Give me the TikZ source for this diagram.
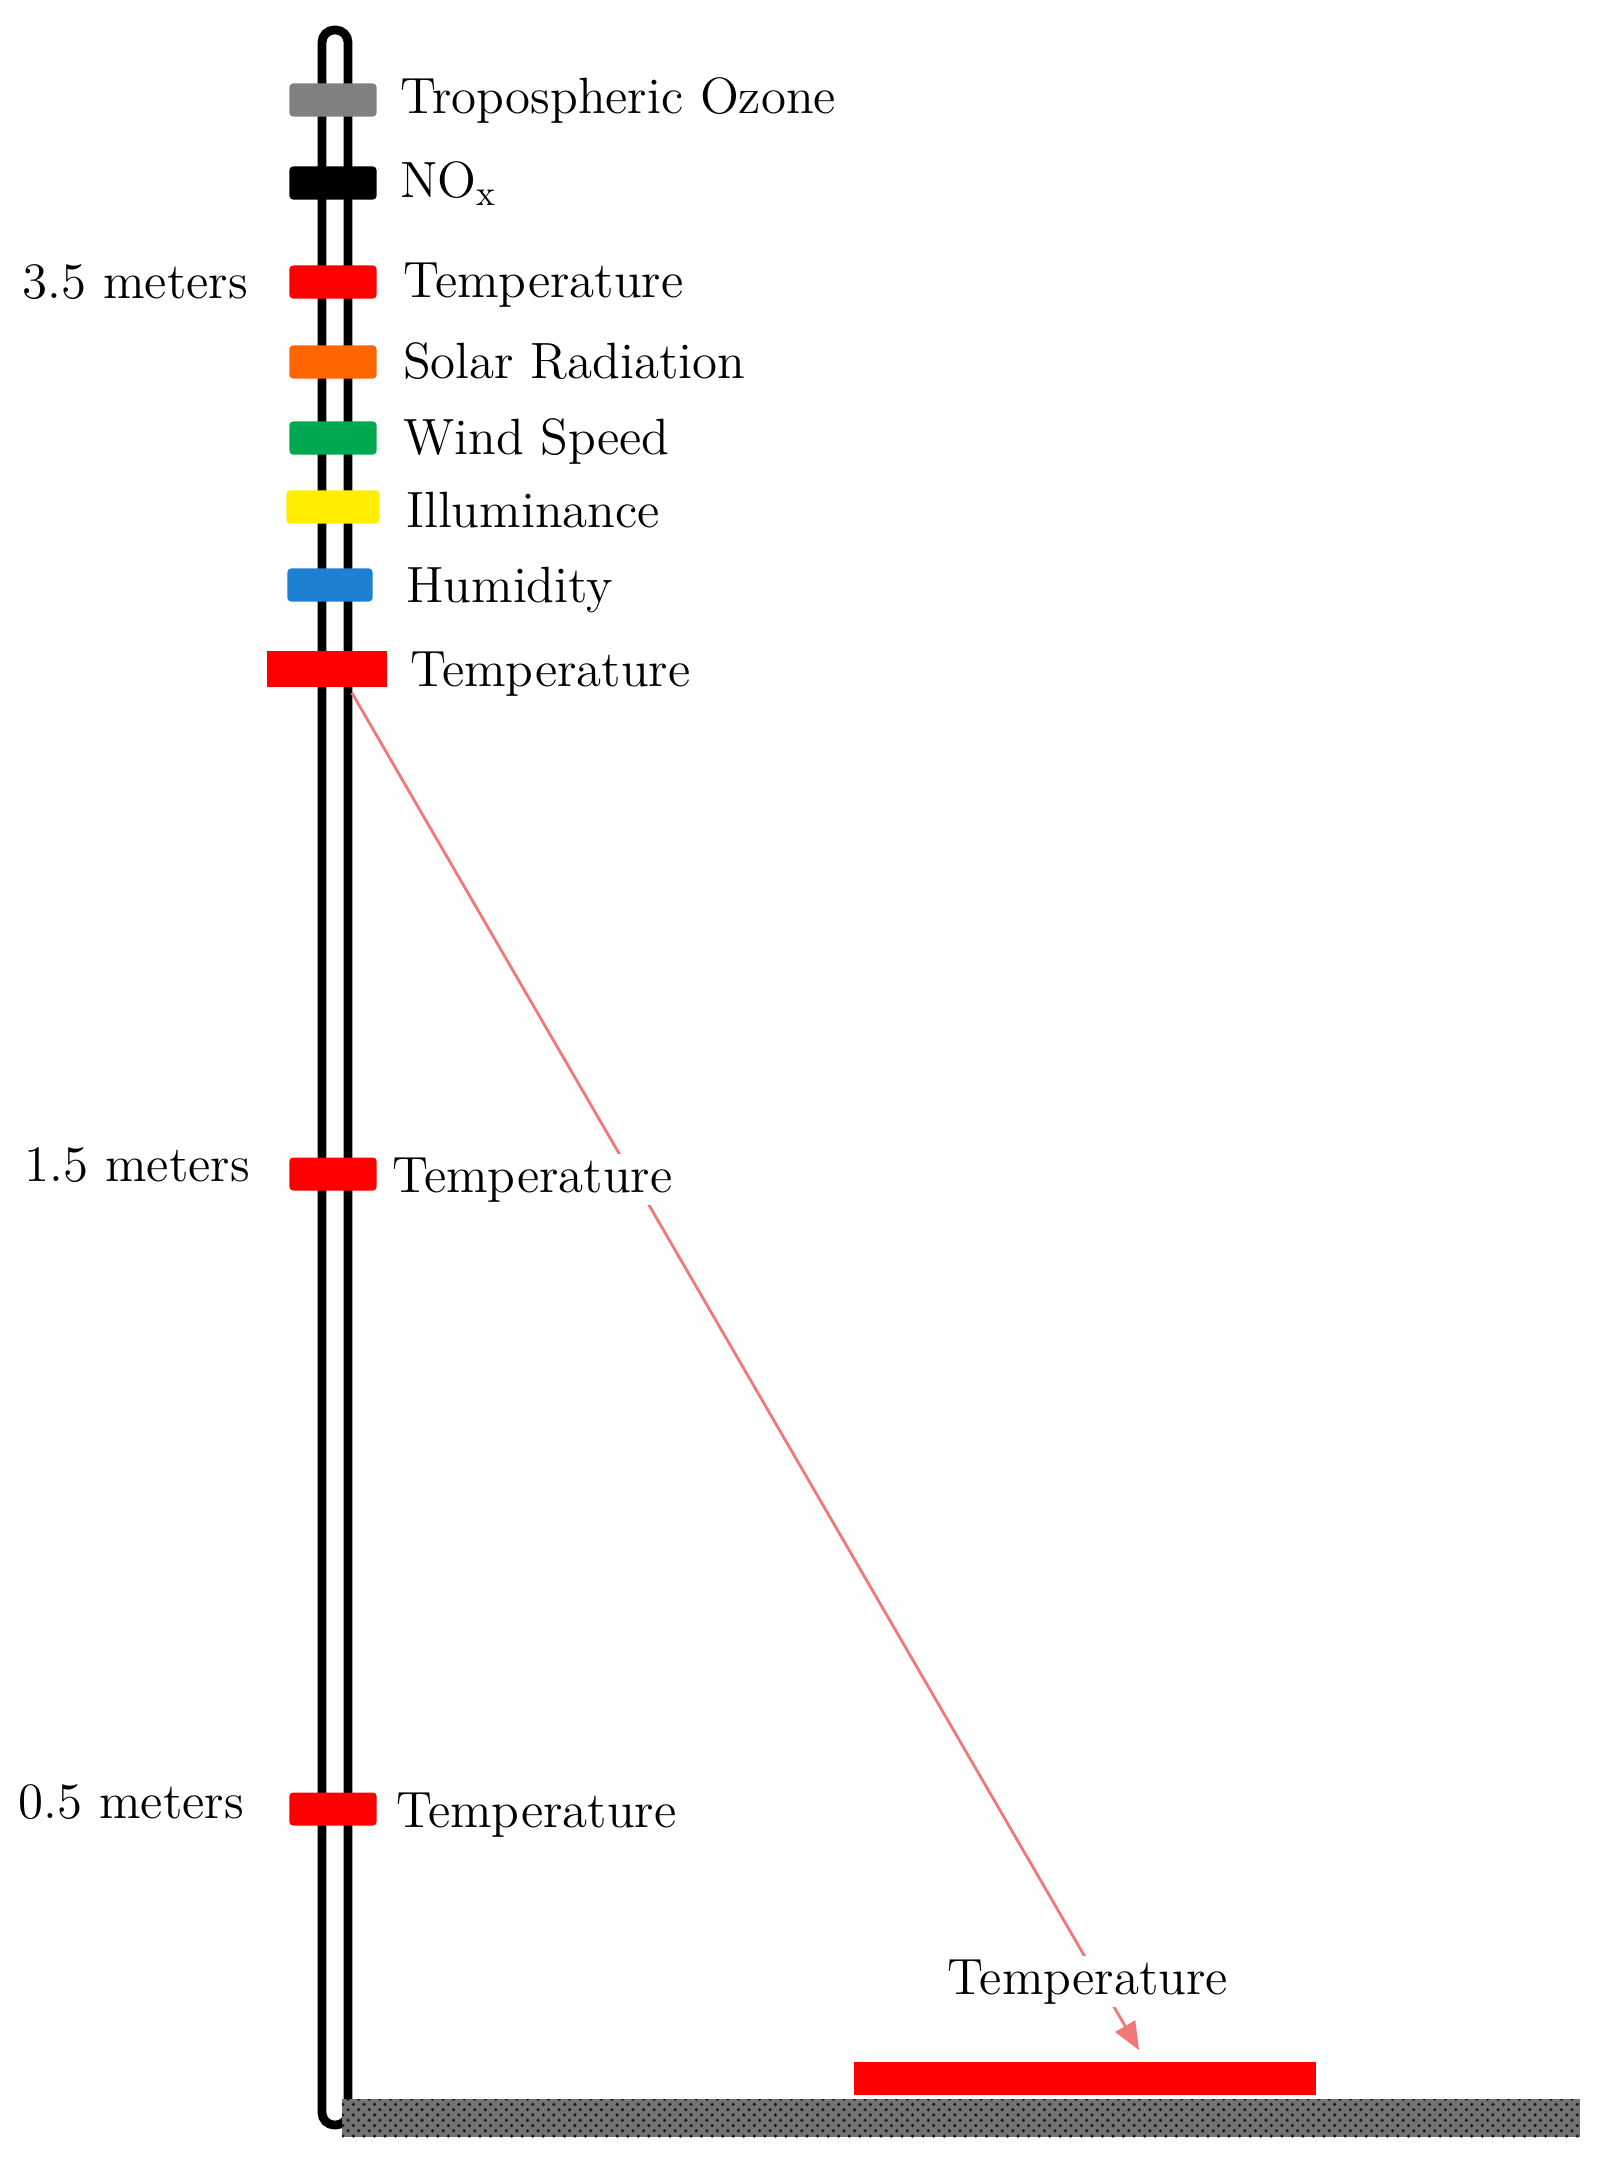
\documentclass[tikz,border=0pt]{standalone}
\usepackage{color}
\usepackage{tikz}
\usetikzlibrary{arrows,patterns}

\definecolor{ozonegray}{RGB}{128,128,128}
\definecolor{sensred}{RGB}{255,0,0}
\definecolor{sensorange}{RGB}{255,102,0}
\definecolor{sensgreen}{RGB}{0,168,80}
\definecolor{sensyellow}{RGB}{255,238,0}
\definecolor{sensblue}{RGB}{30,128,210}
\definecolor{linkpink}{RGB}{240,120,120}

\tikzset{
  sensor/.style={rectangle, rounded corners=1pt, minimum width=0.87cm, minimum height=0.33cm, inner sep=0pt, fill=#1},
  lbl/.style={font=\fontsize{14.5}{17}\selectfont, inner sep=1pt, fill=white},
}

\begin{document}
\begin{tikzpicture}[x=0.01cm,y=-0.01cm]
\useasboundingbox (0,0) rectangle (1603,2173);

    % pole and ground
    \draw[black, line width=2.5pt, fill=white, rounded corners=3.5pt] (322,30) rectangle (348,2125);
    \fill[black!55] (342,2099) rectangle (1580,2137);
    \fill[pattern=crosshatch dots, pattern color=black!90] (342,2099) rectangle (1580,2137);

    % sensors on the pole
    \node[sensor=ozonegray]   (ozone)  at (333,100)  {};
    \node[sensor=black]       (nox)    at (333,183)  {};
    \node[sensor=sensred]     (temp35) at (333,282)  {};
    \node[sensor=sensorange]  (solar)  at (333,362)  {};
    \node[sensor=sensgreen]   (wind)   at (333,438)  {};
    \node[sensor=sensyellow, minimum width=0.93cm] (illum) at (333,507) {};
    \node[sensor=sensblue, minimum width=0.85cm]   (humid) at (330,585) {};
    \node[sensor=sensred, minimum width=1.2cm, minimum height=0.35cm, rounded corners=0pt] (tempmain) at (327,669) {};
    \node[sensor=sensred]     (temp15) at (333,1174) {};
    \node[sensor=sensred]     (temp05) at (333,1809) {};
    \node[sensor=sensred, minimum width=4.61cm, minimum height=0.33cm, rounded corners=0pt] (tempground) at (1085,2078) {};

    % link to the ground sensor
    \coordinate (tap) at (352,693);
    \coordinate (tip) at (1139,2050);
    \draw[linkpink, line width=0.8pt, >=triangle 45, ->] (tap) -- (tip);

    % labels
    \node[lbl, anchor=base west] (ozonetxt)  at (396,114)  {Tropospheric Ozone};
    \node[lbl, anchor=base west] (noxtxt)    at (396,198)  {NO\textsubscript{x}};
    \node[lbl, anchor=base west] (temp35txt) at (399,298)  {Temperature};
    \node[lbl, anchor=base west] (solartxt)  at (399,379)  {Solar Radiation};
    \node[lbl, anchor=base west] (windtxt)   at (399,455)  {Wind Speed};
    \node[lbl, anchor=base west] (illumtxt)  at (402,527)  {Illuminance};
    \node[lbl, anchor=base west] (humidtxt)  at (402,602)  {Humidity};
    \node[lbl, anchor=base west] (tempmaintxt) at (406,686) {Temperature};
    \node[lbl, anchor=base west] (temp15txt) at (388,1192) {Temperature};
    \node[lbl, anchor=base west] (temp05txt) at (392,1827) {Temperature};
    \node[lbl, anchor=base] (tempgroundtxt)  at (1088,1994) {Temperature};

    \node[lbl, anchor=base east] (h35) at (252,299)  {3.5 meters};
    \node[lbl, anchor=base east] (h15) at (254,1181) {1.5 meters};
    \node[lbl, anchor=base east] (h05) at (248,1818) {0.5 meters};

\end{tikzpicture}
\end{document}
